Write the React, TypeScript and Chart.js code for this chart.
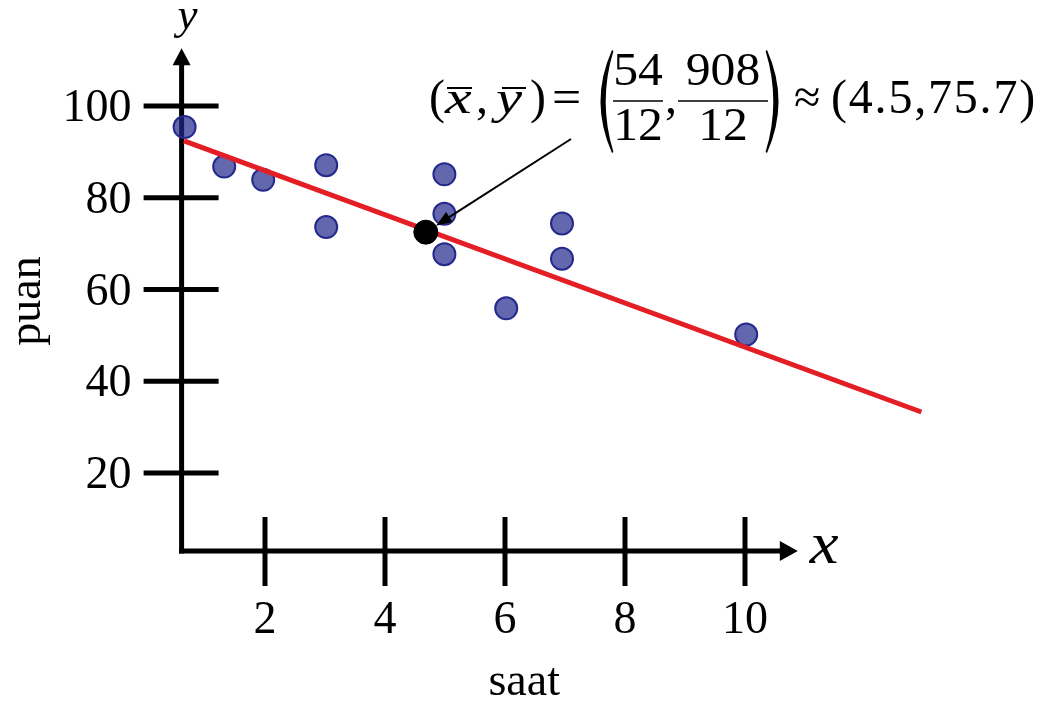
import React, { useEffect, useRef } from "react";
import { Chart, registerables } from "chart.js";

Chart.register(...registerables);

// ---- data ----
const HOURS = [0.66, 1.32, 1.97, 3.02, 3.02, 4.99, 4.99, 4.99, 6.02, 6.95, 6.95, 10.02];
const SCORES = [95.4, 86.8, 83.9, 87.1, 73.6, 85.1, 76.5, 67.7, 55.9, 74.4, 66.7, 50.2];
const MEAN_X = [4.68];
const MEAN_Y = [72.5];
const FIT_X = [0.65, 12.94];
const FIT_Y = [92.4, 33.3];
const X_TICKS = [2, 4, 6, 8, 10];
const Y_TICKS = [20, 40, 60, 80, 100];
const X_TITLE = "saat";
const Y_TITLE = "puan";

// ---- axis geometry (in data units) ----
const AXIS_ORIGIN_X = 0.61;
const AXIS_ORIGIN_Y = 3.0;
const X_AXIS_END = 10.88;
const Y_AXIS_END = 112.6;
const ARROW_START = { x: 7.1, y: 92.8 };
const X_TITLE_AT = 6.32;
const Y_TITLE_AT = 57.5;

const SERIF = "'Liberation Serif', 'Times New Roman', serif";

function text(
  ctx: CanvasRenderingContext2D,
  s: string,
  x: number,
  y: number,
  font: string,
  align: CanvasTextAlign = "left",
  spacing = 0,
  sx = 1
) {
  ctx.save();
  ctx.font = font;
  ctx.textAlign = align;
  ctx.textBaseline = "alphabetic";
  (ctx as any).letterSpacing = spacing + "px";
  ctx.translate(x, y);
  ctx.scale(sx, 1);
  ctx.fillText(s, 0, 0);
  ctx.restore();
}

function bigParen(ctx: CanvasRenderingContext2D, x: number, top: number, bottom: number, left: boolean) {
  const mid = (top + bottom) / 2;
  const d = left ? -1 : 1;
  ctx.beginPath();
  ctx.moveTo(x, top);
  ctx.quadraticCurveTo(x + d * 23, mid, x, bottom);
  ctx.lineTo(x - d * 1.4, bottom - 1);
  ctx.quadraticCurveTo(x + d * 14, mid, x - d * 1.4, top + 1);
  ctx.closePath();
  ctx.fill();
}

const axesPlugin = {
  id: "customAxes",
  beforeDatasetsDraw(chart: any) {
    const ctx: CanvasRenderingContext2D = chart.ctx;
    const xs = chart.scales.x;
    const ys = chart.scales.y;
    const ox = xs.getPixelForValue(AXIS_ORIGIN_X);
    const oy = ys.getPixelForValue(AXIS_ORIGIN_Y);
    const yTop = ys.getPixelForValue(Y_AXIS_END);
    const xRight = xs.getPixelForValue(X_AXIS_END);
    ctx.save();
    ctx.strokeStyle = "#000";
    ctx.fillStyle = "#000";
    ctx.lineWidth = 5;
    ctx.lineCap = "butt";
    // y axis
    ctx.beginPath();
    ctx.moveTo(ox, oy + 2.5);
    ctx.lineTo(ox, yTop + 14);
    ctx.stroke();
    ctx.beginPath();
    ctx.moveTo(ox, yTop);
    ctx.lineTo(ox - 9, yTop + 17);
    ctx.lineTo(ox + 9, yTop + 17);
    ctx.closePath();
    ctx.fill();
    // x axis
    ctx.beginPath();
    ctx.moveTo(ox - 2.5, oy);
    ctx.lineTo(xRight - 15, oy);
    ctx.stroke();
    ctx.beginPath();
    ctx.moveTo(xRight, oy);
    ctx.lineTo(xRight - 18, oy - 10);
    ctx.lineTo(xRight - 18, oy + 10);
    ctx.closePath();
    ctx.fill();
    // y ticks
    for (const v of Y_TICKS) {
      const py = ys.getPixelForValue(v);
      ctx.beginPath();
      ctx.moveTo(ox - 38, py);
      ctx.lineTo(ox + 37, py);
      ctx.stroke();
      text(ctx, String(v), ox - 50, py + 15, `46px ${SERIF}`, "right");
    }
    // x ticks
    for (const v of X_TICKS) {
      const px = xs.getPixelForValue(v);
      ctx.beginPath();
      ctx.moveTo(px, oy - 34);
      ctx.lineTo(px, oy + 35);
      ctx.stroke();
      text(ctx, String(v), px, oy + 82, `46px ${SERIF}`, "center");
    }
    // axis letters
    text(ctx, "x", xRight + 12, oy + 12, `italic 60px ${SERIF}`, "left", 0, 1.08);
    text(ctx, "y", ox - 4, yTop - 19, `italic 45px ${SERIF}`, "left");
    // titles
    text(ctx, X_TITLE, xs.getPixelForValue(X_TITLE_AT), 695, `46px ${SERIF}`, "center");
    ctx.save();
    ctx.translate(40, ys.getPixelForValue(Y_TITLE_AT));
    ctx.rotate(-Math.PI / 2);
    text(ctx, Y_TITLE, 0, 0, `46px ${SERIF}`, "center");
    ctx.restore();
    ctx.restore();
  },
  afterDatasetsDraw(chart: any) {
    const ctx: CanvasRenderingContext2D = chart.ctx;
    const xs = chart.scales.x;
    const ys = chart.scales.y;
    ctx.save();
    ctx.fillStyle = "#000";
    ctx.strokeStyle = "#000";
    // arrow to mean point
    const mx = xs.getPixelForValue(MEAN_X[0]);
    const my = ys.getPixelForValue(MEAN_Y[0]);
    const sx = xs.getPixelForValue(ARROW_START.x);
    const sy = ys.getPixelForValue(ARROW_START.y);
    const dx = sx - mx;
    const dy = sy - my;
    const len = Math.hypot(dx, dy);
    const ux = dx / len;
    const uy = dy / len;
    const tx = mx + ux * 12;
    const ty = my + uy * 12;
    const hl = 16;
    const hw = 6;
    ctx.lineWidth = 2;
    ctx.beginPath();
    ctx.moveTo(sx, sy);
    ctx.lineTo(tx + ux * (hl - 2), ty + uy * (hl - 2));
    ctx.stroke();
    ctx.beginPath();
    ctx.moveTo(tx, ty);
    ctx.lineTo(tx + ux * hl - uy * hw, ty + uy * hl + ux * hw);
    ctx.lineTo(tx + ux * hl + uy * hw, ty + uy * hl - ux * hw);
    ctx.closePath();
    ctx.fill();

    // annotation
    const base = 113;
    const f = `48px ${SERIF}`;
    const fi = `italic 47px ${SERIF}`;
    text(ctx, "(", 429, base, f);
    text(ctx, "x", 445, base, fi, "left", 0, 1.28);
    text(ctx, ",", 476, base, f);
    text(ctx, "y", 496, base, fi, "left", 0, 1.25);
    text(ctx, ")", 530, base, f);
    text(ctx, "=", 552, base, `48px ${SERIF}`, "left", 0, 1.08);
    ctx.lineWidth = 2;
    ctx.beginPath();
    ctx.moveTo(447, 88);
    ctx.lineTo(472, 88);
    ctx.moveTo(502, 88);
    ctx.lineTo(526, 88);
    ctx.stroke();
    bigParen(ctx, 612, 50, 153, true);
    const ff = `46px ${SERIF}`;
    text(ctx, "54", 638, 85, ff, "center", 0, 1.08);
    text(ctx, "12", 638, 140, ff, "center", 0, 1.08);
    text(ctx, ",", 665, base, f);
    text(ctx, "908", 723, 85, ff, "center", 0, 1.08);
    text(ctx, "12", 723, 140, ff, "center", 0, 1.08);
    ctx.lineWidth = 1.5;
    ctx.beginPath();
    ctx.moveTo(613, 101);
    ctx.lineTo(663, 101);
    ctx.moveTo(678, 101);
    ctx.lineTo(768, 101);
    ctx.stroke();
    bigParen(ctx, 767, 50, 153, false);
    text(ctx, "\u2248", 794, base, `48px ${SERIF}`);
    text(ctx, "(4.5,75.7)", 831, base, f, "left", 1.8);
    ctx.restore();
  },
};

export default function App() {
  const ref = useRef<HTMLCanvasElement | null>(null);
  useEffect(() => {
    if (!ref.current) return;
    const chart = new Chart(ref.current, {
      type: "scatter",
      data: {
        datasets: [
          {
            type: "scatter",
            label: "mean",
            data: MEAN_X.map((x, i) => ({ x, y: MEAN_Y[i] })),
            pointRadius: 12,
            backgroundColor: "#000",
            borderColor: "#000",
            borderWidth: 1,
            order: 0,
          },
          {
            type: "line",
            label: "fit",
            data: FIT_X.map((x, i) => ({ x, y: FIT_Y[i] })),
            borderColor: "#e31e25",
            borderWidth: 5,
            pointRadius: 0,
            fill: false,
            tension: 0,
            order: 1,
          } as any,
          {
            type: "scatter",
            label: "data",
            data: HOURS.map((x, i) => ({ x, y: SCORES[i] })),
            pointRadius: 11,
            backgroundColor: "rgba(32,38,140,0.7)",
            borderColor: "#26298c",
            borderWidth: 2,
            order: 2,
          },
        ],
      },
      options: {
        responsive: false,
        animation: false,
        events: [],
        layout: { padding: { left: 145, right: 57, top: 14.25, bottom: 136.25 } },
        scales: {
          x: { type: "linear", min: 0, max: 14, display: false },
          y: { type: "linear", min: 0, max: 120, display: false },
        },
        plugins: { legend: { display: false }, tooltip: { enabled: false } },
      },
      plugins: [axesPlugin],
    });
    return () => chart.destroy();
  }, []);
  return (
    <div style={{ position: "fixed", left: 0, top: 0, width: 1042, height: 701, background: "#fff" }}>
      <canvas ref={ref} width={1042} height={701} style={{ display: "block" }} />
    </div>
  );
}
